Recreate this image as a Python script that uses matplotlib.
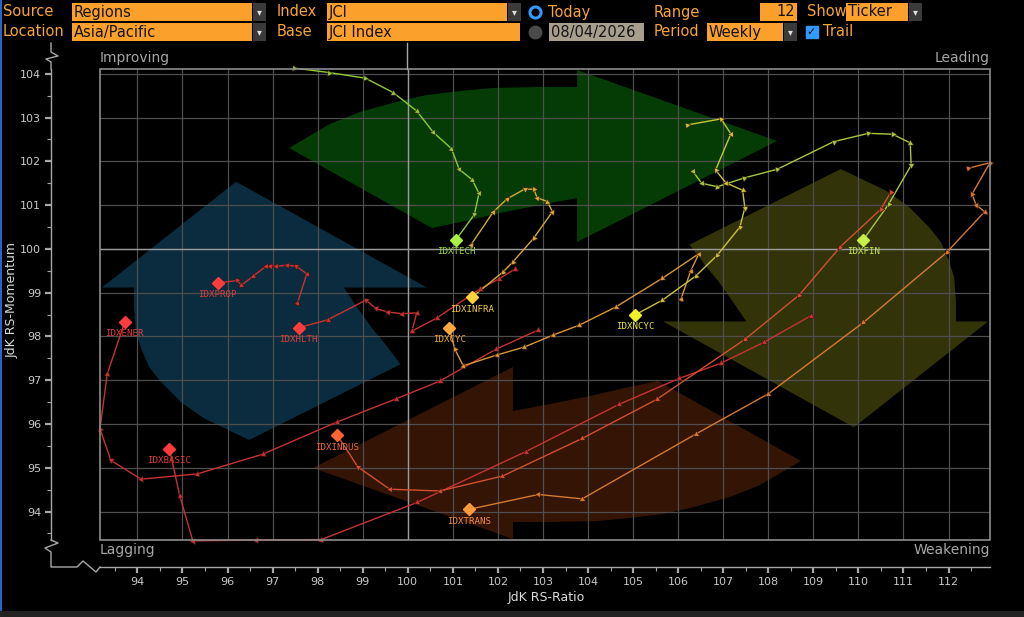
import numpy as np
import matplotlib
matplotlib.use("Agg")
import matplotlib.pyplot as plt
from matplotlib.patches import Polygon, Rectangle
from matplotlib.lines import Line2D

W, H = 1024, 617

# Header controls
source_text = "Regions"
location_text = "Asia/Pacific"
index_text = "JCI"
base_text = "JCI Index"
date_text = "08/04/2026"
range_text = "12"
period_text = "Weekly"
show_text = "Ticker"

# Trails, oldest point first, last point is the current head
tech_x = [97.48, 98.25, 99.06, 99.68, 100.20, 100.57, 100.97, 101.14, 101.43, 101.58, 101.48, 101.07]
tech_y = [104.13, 104.03, 103.90, 103.57, 103.15, 102.66, 102.29, 101.82, 101.58, 101.27, 100.79, 100.21]

fin_x = [106.32, 106.52, 106.87, 107.46, 108.20, 109.45, 110.22, 110.76, 111.15, 111.17, 110.67, 110.11]
fin_y = [101.78, 101.50, 101.42, 101.62, 101.82, 102.45, 102.64, 102.62, 102.42, 101.91, 101.02, 100.21]

ncyc_x = [106.19, 106.95, 107.17, 106.83, 107.06, 107.43, 107.48, 107.37, 106.87, 106.39, 105.65, 105.04]
ncyc_y = [102.83, 102.97, 102.63, 101.80, 101.51, 101.34, 100.94, 100.50, 99.86, 99.38, 98.83, 98.49]

infra_x = [101.40, 101.90, 102.20, 102.60, 102.80, 102.87, 103.10, 103.21, 102.79, 102.33, 102.12, 101.42]
infra_y = [100.09, 100.85, 101.14, 101.37, 101.36, 101.17, 101.08, 100.85, 100.24, 99.70, 99.48, 98.89]

cyc_x = [106.06, 106.28, 106.46, 105.65, 104.61, 103.81, 103.22, 102.59, 101.99, 101.23, 101.04, 100.92]
cyc_y = [98.85, 99.50, 99.89, 99.33, 98.67, 98.26, 98.03, 97.76, 97.58, 97.33, 97.72, 98.20]

trans_x = [112.43, 112.92, 112.52, 112.61, 112.80, 111.96, 110.11, 108.00, 106.39, 103.87, 102.90, 101.36]
trans_y = [101.84, 101.97, 101.25, 101.01, 100.85, 99.92, 98.32, 96.69, 95.77, 94.29, 94.39, 94.05]

indus_x = [110.72, 110.50, 109.60, 108.69, 107.49, 105.52, 103.87, 102.10, 100.71, 99.60, 98.89, 98.44]
indus_y = [101.30, 100.91, 100.05, 98.95, 97.94, 96.56, 95.67, 94.81, 94.47, 94.51, 95.02, 95.74]

hlth_x = [102.38, 102.03, 101.60, 100.64, 100.09, 100.20, 99.88, 99.55, 99.29, 99.07, 98.22, 97.58]
hlth_y = [99.54, 99.32, 99.08, 98.42, 98.12, 98.54, 98.52, 98.56, 98.64, 98.83, 98.38, 98.20]

prop_x = [97.55, 97.76, 97.53, 97.31, 97.07, 96.94, 96.85, 96.57, 96.31, 96.22, 95.78]
prop_y = [98.76, 99.43, 99.60, 99.63, 99.60, 99.61, 99.60, 99.38, 99.17, 99.28, 99.22]

ener_x = [102.90, 101.96, 100.71, 99.73, 98.44, 96.78, 95.33, 94.08, 93.41, 93.17, 93.33, 93.72]
ener_y = [98.15, 97.71, 96.98, 96.57, 96.05, 95.31, 94.86, 94.74, 95.17, 95.89, 97.14, 98.34]

basic_x = [108.94, 107.91, 106.95, 106.02, 104.69, 102.62, 100.21, 98.08, 96.63, 95.23, 94.94, 94.71]
basic_y = [98.47, 97.87, 97.39, 97.04, 96.45, 95.37, 94.21, 93.36, 93.35, 93.33, 94.36, 95.44]

# name, x, y, line colour, head colour
series = [
    ("IDXENER", ener_x, ener_y, "#c83232", "#ff3c3c"),
    ("IDXBASIC", basic_x, basic_y, "#c83232", "#ff3c3c"),
    ("IDXHLTH", hlth_x, hlth_y, "#c83232", "#ff3c3c"),
    ("IDXPROP", prop_x, prop_y, "#c83232", "#ff3c3c"),
    ("IDXINDUS", indus_x, indus_y, "#d2502e", "#ff6432"),
    ("IDXTRANS", trans_x, trans_y, "#d47a30", "#ff9a3c"),
    ("IDXCYC", cyc_x, cyc_y, "#d89632", "#ffa83c"),
    ("IDXINFRA", infra_x, infra_y, "#d4aa32", "#ffd23c"),
    ("IDXNCYC", ncyc_x, ncyc_y, "#c8c43a", "#f0f028"),
    ("IDXFIN", fin_x, fin_y, "#a8c83c", "#c8f046"),
    ("IDXTECH", tech_x, tech_y, "#90c83c", "#a8f046"),
]
label_colors = {"IDXENER": "#e03c3c", "IDXBASIC": "#e03c3c", "IDXHLTH": "#e03c3c",
                "IDXPROP": "#e03c3c", "IDXINDUS": "#f06a3c", "IDXTRANS": "#f08c3c",
                "IDXCYC": "#eba03c", "IDXINFRA": "#f0c83c", "IDXNCYC": "#e6e632",
                "IDXFIN": "#bee646", "IDXTECH": "#96d23c"}

x_min, x_max = 93.17, 112.92
y_min, y_max = 93.35, 104.11
center = 100

# Rotation arrow (top one, pointing right) in axes fraction; others are 90 deg turns
arrow_shape = np.array([
    [0.2124, 0.8323], [0.2584, 0.8832], [0.2921, 0.9087], [0.3371, 0.9321],
    [0.3674, 0.9448], [0.4045, 0.9533], [0.4416, 0.9597], [0.4944, 0.9618],
    [0.5360, 0.9618], [0.5360, 0.9979], [0.7607, 0.8471], [0.5360, 0.6327],
    [0.5360, 0.7261], [0.4944, 0.7113], [0.4494, 0.6943], [0.4157, 0.6794],
    [0.3730, 0.6624]])
arrow_colors = ["#053c05", "#33330a", "#331405", "#0a2c3e"]

fig = plt.figure(figsize=(W / 100, H / 100), dpi=100, facecolor="black")


def fx(x):
    return x / W


def fy(y):
    return 1 - y / H


ax = fig.add_axes([fx(100), fy(540), 890 / W, 471 / H], facecolor="black")
ax.set_xlim(x_min, x_max)
ax.set_ylim(y_min, y_max)

# background arrows
for k, col in enumerate(arrow_colors):
    d = arrow_shape - 0.5
    for _ in range(k):
        d = np.column_stack([d[:, 1], -d[:, 0]])
    ax.add_patch(Polygon(d + 0.5, closed=True, transform=ax.transAxes,
                         facecolor=col, edgecolor="none", zorder=0.2))

# grid and axes
ax.set_xticks(np.arange(94, 113, 1))
ax.set_yticks(np.arange(94, 105, 1))
ax.set_xticks(np.arange(93.5, 113, 0.5), minor=True)
ax.set_yticks(np.arange(93.5, 104.1, 0.5), minor=True)
ax.set_axisbelow(True)
ax.grid(True, which="major", color="#4e4e4e", lw=0.9)
ax.axvline(center, color="#9a9a9a", lw=1.0, zorder=0.6)
ax.axhline(center, color="#9a9a9a", lw=1.0, zorder=0.6)
ax.add_patch(Rectangle((0, 0), 1, 1, transform=ax.transAxes, fill=False,
                       edgecolor="#8c8c8c", lw=1.2, zorder=5, clip_on=False))
for s in ["top", "right"]:
    ax.spines[s].set_visible(False)
ax.spines["left"].set_position(("outward", 49 * 0.72))
ax.spines["bottom"].set_position(("outward", 27 * 0.72))
for s in ["left", "bottom"]:
    ax.spines[s].set_color("#a8a8a8")
    ax.spines[s].set_linewidth(1.0)
ax.tick_params(which="major", colors="#a8a8a8", length=4, width=1.6, labelsize=8,
               labelcolor="#c8c8c8", pad=3)
ax.tick_params(which="minor", colors="#a8a8a8", length=3, width=0.8)

# axis break marks and spine extensions
breaks = [
    [(51, 43), (51, 52), (58, 56), (46, 59), (51, 62), (51, 69)],
    [(51, 540), (58, 543), (45, 548), (51, 552), (51, 567), (77, 567),
     (83, 561), (96, 572), (100, 567)],
    [(407, 43), (407, 69)],
]
for pts in breaks:
    fig.add_artist(Line2D([fx(p[0]) for p in pts], [fy(p[1]) for p in pts],
                          color="#a8a8a8", lw=1.0, transform=fig.transFigure))

# trails
fig.canvas.draw()
for name, xs, ys, lc, hc in series:
    ax.plot(xs, ys, color=lc, lw=1.0, zorder=3, clip_on=False)
    pts = ax.transData.transform(np.column_stack([xs, ys]))
    d = np.diff(pts, axis=0)
    ang = np.degrees(np.arctan2(d[:, 1], d[:, 0]))
    for i in range(len(xs) - 1):
        a = ang[0] if i == 0 else ang[i - 1]
        ax.plot(xs[i], ys[i], marker=(3, 0, a - 90), ms=5, color=lc,
                mec="#301010", mew=0.4, zorder=3.5, clip_on=False)
    ax.plot(xs[-1], ys[-1], marker="D", ms=6.5, color=hc, mec=hc, zorder=4, clip_on=False)
    ax.annotate(name, (xs[-1], ys[-1]), xytext=(0, -8.5), textcoords="offset points",
                ha="center", va="center", fontsize=6.6, family="DejaVu Sans Mono",
                color=label_colors[name], zorder=6)

# quadrant names
qc = "#a6a6a6"
fig.text(fx(100), fy(58), "Improving", color=qc, fontsize=10, ha="left", va="center")
fig.text(fx(990), fy(58), "Leading", color=qc, fontsize=10, ha="right", va="center")
fig.text(fx(100), fy(550), "Lagging", color=qc, fontsize=10, ha="left", va="center")
fig.text(fx(990), fy(550), "Weakening", color=qc, fontsize=10, ha="right", va="center")

fig.text(fx(546), fy(598), "JdK RS-Ratio", color="#dcdcdc", fontsize=9, ha="center", va="center")
fig.text(fx(12), fy(300), "JdK RS-Momentum", color="#dcdcdc", fontsize=9, ha="center",
         va="center", rotation=90)

# header bar
ORANGE = "#fca02c"
LBL = "#f6a436"


def box(x0, y0, x1, y1, color):
    fig.patches.append(Rectangle((fx(x0), fy(y1)), (x1 - x0) / W, (y1 - y0) / H,
                                 transform=fig.transFigure, facecolor=color,
                                 edgecolor="none"))


def field(x0, y0, x1, y1, s, color=ORANGE, drop=False, right=False):
    box(x0, y0, x1, y1, color)
    if right:
        fig.text(fx(x1 - 2), fy((y0 + y1) / 2), s, color="#141414", fontsize=10.5,
                 ha="right", va="center")
    else:
        fig.text(fx(x0 + 2), fy((y0 + y1) / 2), s, color="#141414", fontsize=10.5,
                 ha="left", va="center")
    if drop:
        box(x1 + 1, y0, x1 + 14, y1, "#3a3a3a")
        fig.text(fx(x1 + 7.5), fy((y0 + y1) / 2), "▾", color="#e0e0e0", fontsize=7,
                 ha="center", va="center")


def caption(x, y, s):
    fig.text(fx(x), fy(y), s, color=LBL, fontsize=10.5, ha="left", va="center")


caption(3, 12, "Source")
field(72, 3, 252, 21, source_text, drop=True)
caption(3, 32, "Location")
field(72, 23, 252, 41, location_text, drop=True)
caption(277, 12, "Index")
field(327, 3, 507, 21, index_text, drop=True)
caption(277, 32, "Base")
field(327, 23, 520, 41, base_text)
fig.add_artist(Line2D([fx(535)], [fy(12)], marker="o", ms=8, mfc="black", mec="#3399ff",
                      mew=2.2, transform=fig.transFigure))
caption(548, 12, "Today")
fig.add_artist(Line2D([fx(535)], [fy(32)], marker="o", ms=9, mfc="#4a4a4a", mec="#4a4a4a",
                      transform=fig.transFigure))
field(549, 23, 644, 41, date_text, color="#a89e8e")
caption(654, 12, "Range")
field(760, 3, 797, 21, range_text, right=True)
caption(807, 12, "Show")
field(846, 3, 908, 21, show_text, drop=True)
caption(654, 32, "Period")
field(707, 23, 783, 41, period_text, drop=True)
fig.add_artist(Line2D([fx(811.5)], [fy(32)], marker="s", ms=8, mfc="#3399ff", mec="#3399ff",
                      transform=fig.transFigure))
fig.text(fx(811.5), fy(32), "✓", color="#101010", fontsize=8, fontweight="bold",
         ha="center", va="center")
caption(823, 32, "Trail")

# window edges
box(0, 0, 2, 617, "#2a64c8")
box(0, 611, 1024, 617, "#222222")

fig.savefig("out.png", dpi=100, facecolor="black")
